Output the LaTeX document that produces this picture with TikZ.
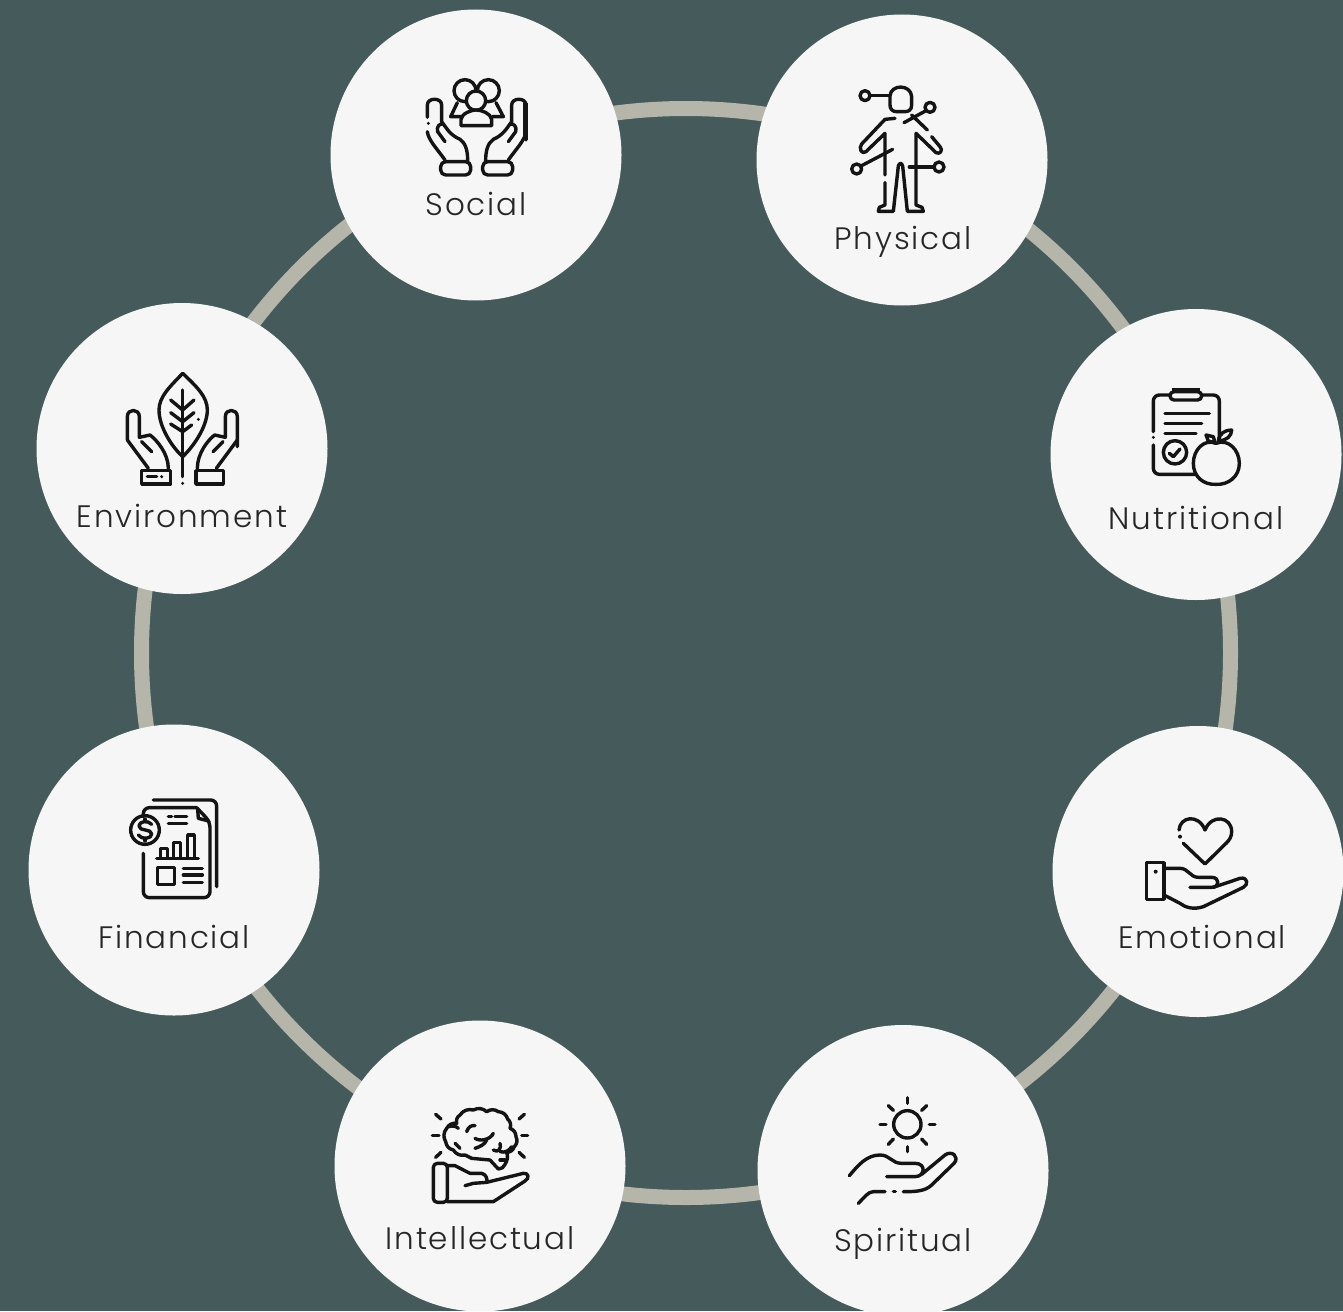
\documentclass[tikz,border=0pt]{standalone}
\usepackage{fontspec}
\setmainfont{Poppins Light}[LetterSpace=6]
\definecolor{bgc}{HTML}{455A5A}
\definecolor{ringc}{HTML}{B5B5A9}
\definecolor{discc}{HTML}{F6F6F6}
\definecolor{inkc}{HTML}{141414}
\tikzset{
  disc/.style={circle,fill=discc,minimum size=291pt,inner sep=0pt},
  ringnode/.style={circle,draw=ringc,line width=15pt,minimum size=1089pt,inner sep=0pt},
  lab/.style={anchor=base,text=black!85,font=\fontsize{31}{37}\selectfont},
  ico/.style={draw=inkc,line width=3.4pt,line cap=round,line join=round},
  zoomed/.style={x=0.33333pt,y=-0.33333pt}
}
\begin{document}
\begin{tikzpicture}[x=1pt,y=-1pt]
\useasboundingbox (0,0) rectangle (1343,1311);
\fill[bgc] (0,0) rectangle (1343,1311);
\node[ringnode] (ring) at (686,653) {};
\node[disc] (social) at (476,155) {};
\node[disc] (physical) at (902,160) {};
\node[disc] (nutritional) at (1196,454.5) {};
\node[disc] (emotional) at (1198,871.5) {};
\node[disc] (spiritual) at (903,1170.5) {};
\node[disc] (intellectual) at (480,1166) {};
\node[disc] (financial) at (174,870) {};
\node[disc] (environment) at (182,448.5) {};
\node[lab] (tsocial) at (476,215.5) {Social};
\node[lab] (tphysical) at (903,249.5) {Physical};
\node[lab] (tnutritional) at (1196,529.5) {Nutritional};
\node[lab] (temotional) at (1202,948.5) {Emotional};
\node[lab] (tspiritual) at (903,1251.5) {Spiritual};
\node[lab] (tintellectual) at (480,1249.5) {Intellectual};
\node[lab] (tfinancial) at (174,948.5) {Financial};
\node[lab] (tenvironment) at (182,527.5) {Environment};
% Social
\begin{scope}[shift={(400,60)},zoomed,ico]
\draw (195,92) circle[radius=33];
\draw (265,92) circle[radius=33];
\fill[discc] (228,122) circle[radius=30];
\draw (228,122) circle[radius=29];
\draw (172,128) -- (152,170) -- (183,170);
\draw (288,128) -- (310,170) -- (277,170);
\draw[fill=discc] (183,197) -- (183,178) .. controls (185,160) and (215,150) .. (228,150) .. controls (245,150) and (272,160) .. (275,178) -- (275,197) -- cycle;
\draw (82,172) -- (82,135) .. controls (82,112) and (125,112) .. (125,135) -- (125,185) .. controls (140,205) and (150,225) .. (180,238) .. controls (198,250) and (203,275) .. (203,302);
\draw (82,215) .. controls (85,240) and (110,265) .. (135,300);
\draw (135,245) -- (113,215) .. controls (108,200) and (120,190) .. (128,192);
\draw[rounded corners=5pt] (122,305) rectangle (212,345);
\fill[inkc] (85,190) circle[radius=5];
\draw (378,240) -- (378,135) .. controls (378,112) and (335,112) .. (335,135) -- (335,185) .. controls (320,205) and (310,225) .. (280,238) .. controls (262,250) and (257,275) .. (257,302);
\draw (378,215) .. controls (375,240) and (350,265) .. (325,300);
\draw (325,245) -- (347,215) .. controls (352,200) and (340,190) .. (332,192);
\draw[rounded corners=5pt] (248,305) rectangle (338,345);
\draw[line width=5pt,line cap=butt] (375,130) -- (375,240);
\end{scope}
% Physical
\begin{scope}[shift={(830,70)},zoomed,ico]
\draw (180,78) .. controls (182,42) and (243,42) .. (245,80) -- (245,105) .. controls (245,120) and (235,125) .. (225,125) -- (200,125) .. controls (188,125) and (180,118) .. (180,105) -- cycle;
\draw (105,77) circle[radius=15];
\draw (120,77) -- (180,77);
\draw (300,112) circle[radius=15];
\draw (288,122) -- (222,158);
\draw (245,135) -- (292,180);
\draw (195,145) -- (165,148) -- (95,222) .. controls (85,235) and (95,255) .. (108,245) -- (165,190) -- (165,315);
\draw (165,338) -- (165,405) -- (148,412) -- (145,424) -- (190,424) -- (205,288) .. controls (207,278) and (216,278) .. (218,288) -- (232,424) -- (280,424) -- (276,412) -- (258,405) -- (258,190) -- (318,248) .. controls (330,255) and (340,240) .. (330,230) -- (305,200);
\draw (80,297) circle[radius=15];
\draw (93,288) -- (188,238);
\draw (327,291) circle[radius=15];
\draw (312,291) -- (238,291);
\end{scope}
% Nutritional
\begin{scope}[shift={(1130,375)},zoomed,ico]
\draw[rounded corners=6pt] (70,170) -- (70,60) -- (120,60);
\draw[rounded corners=6pt] (215,60) -- (268,60) -- (268,195);
\draw[rounded corners=6pt] (70,210) -- (70,298) -- (195,298);
\draw[rounded corners=4pt] (120,50) rectangle (215,75);
\draw[line width=4pt,line cap=butt] (125,45) -- (210,45);
\draw (105,115) -- (238,115);
\draw (105,145) -- (215,145);
\draw (105,176) -- (198,176);
\fill[inkc] (70,187) circle[radius=5];
\draw (135,232) circle[radius=35];
\draw (118,235) -- (130,245) -- (150,222);
\draw (258,205) .. controls (295,190) and (328,225) .. (328,265) .. controls (328,305) and (295,330) .. (258,328) .. controls (220,330) and (190,305) .. (190,265) .. controls (190,225) and (222,190) .. (258,205);
\draw (228,180) -- (250,185) -- (255,203) -- (235,198) -- cycle;
\draw (265,197) .. controls (268,175) and (285,165) .. (305,165) .. controls (305,182) and (290,198) .. (265,197);
\end{scope}
% Emotional
\begin{scope}[shift={(1130,800)},zoomed,ico]
\draw (147,90) .. controls (150,50) and (205,40) .. (225,90) .. controls (245,40) and (305,50) .. (305,95) .. controls (305,110) and (298,120) .. (290,128) -- (225,192) -- (160,130);
\fill[inkc] (150,110) circle[radius=6];
\draw (50,188) rectangle (102,298);
\fill[inkc] (77,215) circle[radius=6];
\draw (102,205) -- (150,205) .. controls (175,205) and (180,232) .. (205,232) -- (245,232) .. controls (270,232) and (270,262) .. (245,262) -- (180,262);
\draw (250,262) -- (330,235) .. controls (355,230) and (355,255) .. (340,262) -- (220,320) .. controls (190,330) and (165,322) .. (150,310) -- (102,285);
\end{scope}
% Spiritual
\begin{scope}[shift={(830,1085)},zoomed,ico]
\draw (232,118) circle[radius=41];
\foreach \a/\b/\c/\d in {232/38/232/55, 232/185/232/200, 150/118/168/118, 298/118/315/118, 175/62/190/76, 290/62/275/76, 175/178/190/162, 290/178/275/162}{
 \draw (\a,\b) -- (\c,\d);}
\draw (58,272) .. controls (85,240) and (110,210) .. (150,210) .. controls (180,210) and (185,235) .. (215,235) -- (255,235) .. controls (290,235) and (285,275) .. (255,275) -- (170,275);
\draw (275,268) -- (345,210) .. controls (365,195) and (390,215) .. (372,235) -- (305,300) .. controls (285,320) and (250,320) .. (220,320);
\draw (190,320) -- (196,320);
\draw (165,320) -- (130,320) .. controls (115,320) and (105,335) .. (85,355);
\end{scope}
% Intellectual
\begin{scope}[shift={(415,1095)},zoomed,ico]
\draw[rounded corners=4pt] (55,205) rectangle (97,322);
\draw (97,212) -- (120,212) -- (165,235) -- (200,235) .. controls (215,238) and (218,255) .. (215,262) -- (175,265) -- (150,272);
\draw (215,262) -- (325,235) .. controls (340,232) and (345,250) .. (330,258) -- (235,320) -- (97,320);
\draw (150,180) to[bend left=35] (115,165) to[bend left=35] (92,140) to[bend left=35] (95,100) to[bend left=35] (125,85) to[bend left=35] (135,60) to[bend left=35] (175,45) to[bend left=35] (215,50) to[bend left=35] (250,50) to[bend left=35] (278,72) to[bend left=35] (285,100) to[bend left=35] (303,125) to[bend left=35] (298,155) to[bend left=35] (275,172) to[bend left=25] (270,208) to[bend left=35] (250,222) -- (225,195) -- (170,190) -- (150,180);
\draw (155,110) .. controls (160,95) and (170,90) .. (180,92);
\draw (180,130) .. controls (195,140) and (225,135) .. (235,115);
\draw (180,160) .. controls (195,155) and (210,148) .. (215,135);
\draw (120,145) -- (135,160);
\draw (235,165) .. controls (250,175) and (260,160) .. (255,145);
\draw (255,170) .. controls (270,175) and (285,165) .. (290,155);
\draw (100,95) .. controls (115,90) and (125,95) .. (130,100);
\draw (255,195) -- (270,195);
\foreach \a/\b/\c/\d in {62/58/78/72, 52/122/72/122, 62/187/78/172, 328/58/312/72, 320/122/338/122, 312/172/328/187}{
 \draw (\a,\b) -- (\c,\d);}
\end{scope}
% Financial
\begin{scope}[shift={(115,785)},zoomed,ico]
\draw[rounded corners=6pt] (115,45) -- (305,45) -- (305,305);
\draw[rounded corners=6pt] (85,95) -- (85,68) -- (245,68);
\draw[rounded corners=6pt] (245,68) -- (285,110) -- (285,338) -- (85,338) -- (85,205);
\draw (248,72) -- (250,100) -- (282,108);
\draw (90,135) circle[radius=43];
\draw (110,118) .. controls (100,105) and (72,108) .. (72,123) .. controls (72,140) and (110,130) .. (110,147) .. controls (110,162) and (80,165) .. (70,150);
\draw (90,102) -- (90,108);
\draw (90,162) -- (90,168);
\draw (160,95) -- (170,95);
\draw (180,95) -- (215,95);
\draw (160,115) -- (215,115);
\draw (137,218) -- (137,190) -- (157,190) -- (157,218);
\draw (175,218) -- (175,172) -- (197,172) -- (197,218);
\draw (218,218) -- (218,150) -- (238,150) -- (238,218);
\draw (125,220) -- (250,220);
\draw (127,248) rectangle (178,298);
\draw (205,250) -- (262,250);
\draw (205,270) -- (262,270);
\draw (205,292) -- (262,292);
\end{scope}
% Environment
\begin{scope}[shift={(110,360)},zoomed,ico]
\draw (218,40) .. controls (260,80) and (292,110) .. (292,150) .. controls (292,200) and (250,260) .. (218,290) .. controls (185,260) and (147,200) .. (147,150) .. controls (147,110) and (180,80) .. (218,40);
\draw (218,90) -- (218,350);
\fill[inkc] (218,370) circle[radius=5];
\draw (182,120) -- (218,150) -- (252,120);
\draw (182,158) -- (218,185) -- (252,158);
\draw (182,192) -- (218,215) -- (245,195);
\fill[inkc] (265,178) circle[radius=5];
\draw (52,240) -- (52,170) .. controls (52,145) and (88,145) .. (88,170) -- (88,232) -- (120,225) .. controls (140,240) and (175,280) .. (175,325);
\draw (52,240) -- (115,325);
\draw (125,275) -- (95,245);
\draw (95,332) rectangle (182,372);
\draw (112,350) -- (140,350);
\fill[inkc] (155,350) circle[radius=5];
\draw (382,260) -- (382,170) .. controls (382,145) and (346,145) .. (346,170) -- (346,232) -- (314,225) .. controls (294,240) and (262,280) .. (262,325);
\draw (382,240) -- (319,325);
\draw (309,275) -- (339,245);
\draw (258,332) rectangle (340,372);
\end{scope}
\end{tikzpicture}
\end{document}
